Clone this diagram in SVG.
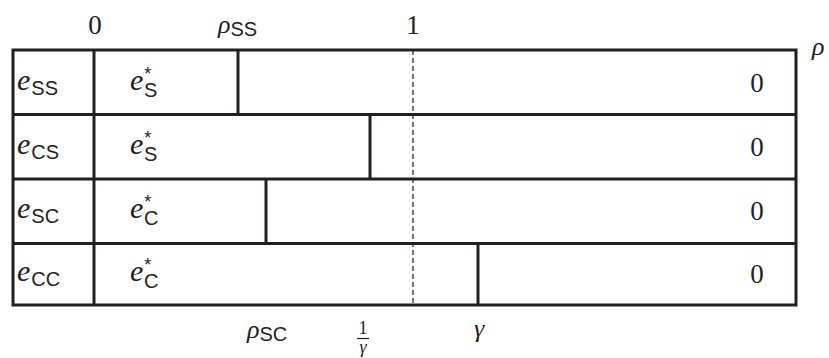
<svg xmlns="http://www.w3.org/2000/svg" width="829" height="358" viewBox="0 0 829 358">
<style>
.ln{stroke:#231f20;stroke-width:3;fill:none}
.dash{stroke:#231f20;stroke-width:1.2;stroke-dasharray:5,3;fill:none}
.num{font-family:'Liberation Serif','Times New Roman',serif;font-size:27px;fill:#231f20}
.ei{font-family:'Liberation Serif','Times New Roman',serif;font-style:italic;font-size:30px;fill:#231f20}
.sub{font-family:'Liberation Sans',Arial,sans-serif;font-style:normal;font-size:20px}
.sup{font-family:'Liberation Sans',Arial,sans-serif;font-style:normal;font-size:18px}
.gr{font-family:'Liberation Serif','Times New Roman',serif;font-style:italic;font-size:26px;fill:#231f20}
</style>
<rect width="829" height="358" fill="#fff"/>
<g id="axis-labels">
<text class="num" x="95" y="34" text-anchor="middle">0</text>
<text class="gr" x="218" y="33">ρ<tspan class="sub" dy="3">SS</tspan></text>
<text class="num" x="413" y="34" text-anchor="middle">1</text>
<text class="gr" x="812" y="55">ρ</text>
<text class="gr" x="247" y="338">ρ<tspan class="sub" dy="3">SC</tspan></text>
<text class="num" x="363" y="334" text-anchor="middle" style="font-size:18px">1</text>
<line x1="357" y1="338.5" x2="369" y2="338.5" stroke="#231f20" stroke-width="1.2"/>
<text class="gr" x="363" y="353" text-anchor="middle" style="font-size:18px">γ</text>
<text class="gr" x="479" y="337" text-anchor="middle">γ</text>
</g>
<g id="connectors">
<rect class="ln" x="13" y="50" width="783" height="255"/>
<line class="ln" x1="13" y1="114.5" x2="796" y2="114.5"/>
<line class="ln" x1="13" y1="179" x2="796" y2="179"/>
<line class="ln" x1="13" y1="243.5" x2="796" y2="243.5"/>
<line class="ln" x1="94" y1="50" x2="94" y2="305"/>
<line class="dash" x1="413" y1="50" x2="413" y2="305"/>
</g>
<g id="row-ss">
<line class="ln" x1="238" y1="50" x2="238" y2="114.5"/>
<text class="ei" x="17" y="90">e<tspan class="sub" dy="5" dx="1">SS</tspan></text>
<text class="ei" x="130" y="90">e<tspan class="sup" dy="-10" dx="1">*</tspan><tspan class="sub" x="144" y="97">S</tspan></text>
<text class="num" x="757" y="92" text-anchor="middle">0</text>
</g>
<g id="row-cs">
<line class="ln" x1="370" y1="114.5" x2="370" y2="179"/>
<text class="ei" x="17" y="154">e<tspan class="sub" dy="5" dx="1">CS</tspan></text>
<text class="ei" x="130" y="154">e<tspan class="sup" dy="-10" dx="1">*</tspan><tspan class="sub" x="144" y="161">S</tspan></text>
<text class="num" x="757" y="156" text-anchor="middle">0</text>
</g>
<g id="row-sc">
<line class="ln" x1="266" y1="179" x2="266" y2="243.5"/>
<text class="ei" x="17" y="218">e<tspan class="sub" dy="5" dx="1">SC</tspan></text>
<text class="ei" x="130" y="218">e<tspan class="sup" dy="-10" dx="1">*</tspan><tspan class="sub" x="144" y="225">C</tspan></text>
<text class="num" x="757" y="220" text-anchor="middle">0</text>
</g>
<g id="row-cc">
<line class="ln" x1="478" y1="243.5" x2="478" y2="305"/>
<text class="ei" x="17" y="281">e<tspan class="sub" dy="5" dx="1">CC</tspan></text>
<text class="ei" x="130" y="281">e<tspan class="sup" dy="-10" dx="1">*</tspan><tspan class="sub" x="144" y="288">C</tspan></text>
<text class="num" x="757" y="283" text-anchor="middle">0</text>
</g>
</svg>
